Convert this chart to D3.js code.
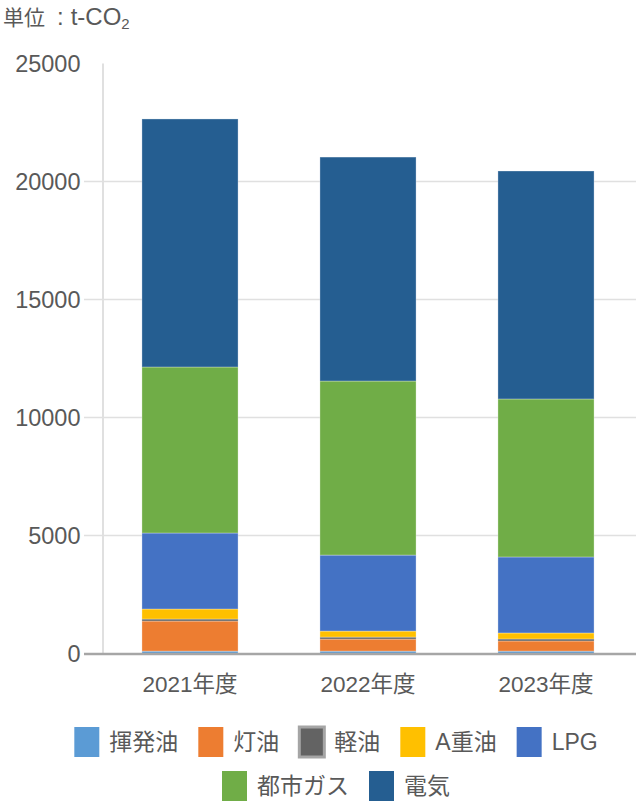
<!DOCTYPE html>
<html>
<head>
<meta charset="utf-8">
<script src="https://cdn.jsdelivr.net/npm/d3@7"></script>
<style>
  html, body { margin: 0; padding: 0; background: #fff; }
  svg text { font-family: "Liberation Sans", Arial, "Noto Sans CJK JP", sans-serif; fill: #595959; }
</style>
</head>
<body>
<svg id="chart" width="640" height="802"></svg>
<script>
const categories = ["2021年度", "2022年度", "2023年度"];
const seriesNames = ["揮発油", "灯油", "軽油", "A重油", "LPG", "都市ガス", "電気"];
const gasoline = [100, 100, 100];
const kerosene = [1275, 510, 430];
const diesel = [85, 85, 85];
const heavyOilA = [425, 255, 255];
const lpg = [3220, 3220, 3220];
const cityGas = [7035, 7375, 6695];
const electricity = [10510, 9490, 9660];
const seriesValues = [gasoline, kerosene, diesel, heavyOilA, lpg, cityGas, electricity];
const colors = ["#5B9BD5", "#ED7D31", "#636363", "#FFC000", "#4472C4", "#70AD47", "#255E91"];
const yTicks = [0, 5000, 10000, 15000, 20000, 25000];

const rows = categories.map((c, i) => {
  const r = { cat: c };
  seriesNames.forEach((s, j) => r[s] = seriesValues[j][i]);
  return r;
});
const stacked = d3.stack().keys(seriesNames)(rows);

const svg = d3.select("#chart");
const x = d3.scaleBand().domain(categories).range([101, 635]).paddingInner(0.46).paddingOuter(0.23);
const y = d3.scaleLinear().domain([0, 25000]).range([653.5, 63.5]);

// title
const title = svg.append("text").attr("x", 3).attr("y", 25);
title.append("tspan").attr("font-size", 21).text("単位");
title.append("tspan").attr("font-size", 24).attr("dx", 12).text(":");
title.append("tspan").attr("font-size", 24).attr("dx", 7).text("t-CO");
title.append("tspan").attr("font-size", 15).attr("dy", 4).text("2");

// gridlines
svg.append("g").selectAll("line").data(yTicks.filter(t => t > 0 && t < 25000)).join("line")
  .attr("x1", 84).attr("x2", 636)
  .attr("y1", d => y(d)).attr("y2", d => y(d))
  .attr("stroke", "#e0e0e0").attr("stroke-width", 1.5);

// vertical axis line
svg.append("line").attr("x1", 103).attr("x2", 103).attr("y1", y(25000)).attr("y2", y(0))
  .attr("stroke", "#e0e0e0").attr("stroke-width", 2);

// y labels
const yAxis = d3.axisLeft(y).tickValues(yTicks).tickSize(0).tickPadding(0).tickFormat(d3.format("d"));
const yg = svg.append("g").attr("transform", "translate(80.5,0)").call(yAxis);
yg.select(".domain").remove();
yg.selectAll("text").attr("font-size", 23.5).attr("fill", "#595959")
  .style("font-family", '"Liberation Sans", Arial, sans-serif');

// bars
svg.append("g").selectAll("g").data(stacked).join("g")
  .attr("fill", (d, i) => colors[i])
  .selectAll("rect").data(d => d).join("rect")
  .attr("x", d => x(d.data.cat))
  .attr("width", x.bandwidth())
  .attr("y", d => y(d[1]))
  .attr("height", d => y(d[0]) - y(d[1]))
  .attr("stroke", "rgba(255,255,255,0.3)").attr("stroke-width", 1);

// x axis line
svg.append("line").attr("x1", 84).attr("x2", 636).attr("y1", y(0) + 0.5).attr("y2", y(0) + 0.5)
  .attr("stroke", "#a6a6a6").attr("stroke-width", 2.3);

// x labels
const xAxis = d3.axisBottom(x).tickSize(0).tickPadding(0);
const xg = svg.append("g").attr("transform", "translate(0,676)").call(xAxis);
xg.select(".domain").remove();
xg.selectAll("text").attr("font-size", 22.5).attr("fill", "#595959").attr("dy", "0.72em")
  .style("font-family", '"Liberation Sans", Arial, "Noto Sans CJK JP", sans-serif');

// legend
const legendRows = [[0, 1, 2, 3, 4], [5, 6]];
const rowY = [742, 786];
const sw = 25, sh = 30, gapText = 10, gapItem = 20, cx = 336;
legendRows.forEach((idxs, ri) => {
  const g = svg.append("g");
  let pos = 0;
  idxs.forEach(i => {
    const ig = g.append("g");
    ig.append("rect").attr("width", sw).attr("height", sh).attr("y", -sh / 2)
      .attr("fill", colors[i])
      .attr("stroke", i === 2 ? "#a5a5a5" : "none").attr("stroke-width", i === 2 ? 3 : 0);
    const t = ig.append("text").attr("x", sw + gapText).attr("y", 0).attr("dy", "0.35em")
      .attr("font-size", 23).text(seriesNames[i]);
    const w = sw + gapText + t.node().getComputedTextLength();
    ig.attr("transform", `translate(${pos},0)`);
    pos += w + gapItem;
  });
  const total = pos - gapItem;
  g.attr("transform", `translate(${cx - total / 2},${rowY[ri]})`);
});
</script>
</body>
</html>
